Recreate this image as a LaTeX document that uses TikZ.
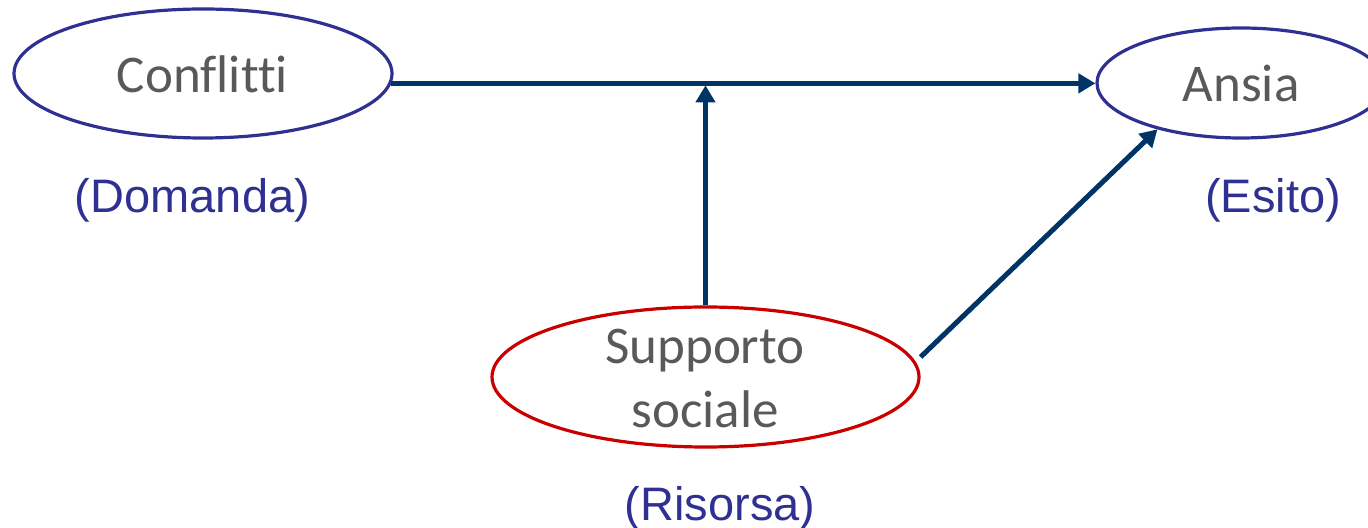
\documentclass[tikz,border=0pt]{standalone}
\usepackage{fontspec}
\setmainfont[Ligatures=NoCommon]{Carlito}
\newfontfamily\labfont{Liberation Sans}
\usetikzlibrary{shapes.geometric,arrows.meta}
\definecolor{ellblue}{RGB}{46,49,146}
\definecolor{ellred}{RGB}{200,0,0}
\definecolor{arrnavy}{RGB}{0,51,102}
\definecolor{txtgray}{RGB}{89,89,89}
\tikzset{
  ovalblue/.style={ellipse, draw=ellblue, line width=1.6pt, inner sep=0pt},
  ovalred/.style={ellipse, draw=ellred, line width=1.6pt, inner sep=0pt},
  maintext/.style={anchor=base, inner sep=0pt, text=txtgray, font=\fontsize{26.5pt}{30pt}\selectfont},
  labtext/.style={anchor=base, inner sep=0pt, text=ellblue, font=\labfont\fontsize{23.5pt}{27pt}\selectfont},
  arr/.style={draw=arrnavy, line width=2.5pt, -{Triangle[length=8.5pt,width=9.5pt]}}
}
\begin{document}
\begin{tikzpicture}[x=0.5pt,y=-0.5pt]
\clip (0,0) rectangle (1368,528);
% ellipses
\node[ovalblue, minimum width=189pt, minimum height=64.5pt] (conf) at (203,73.5) {};
\node[ovalblue, minimum width=144pt, minimum height=55pt] (ansia) at (1241,83) {};
\node[ovalred, minimum width=213.5pt, minimum height=70pt] (sup) at (705.5,377) {};
% texts
\node[maintext] (tconf) at (202.5,93) {Conflitti};
\node[maintext] (tansia) at (1241,102) {Ansia};
\node[maintext] (tsup1) at (705,364) {Supporto};
\node[maintext] (tsup2) at (705,427) {sociale};
\node[labtext] (ldom) at (192.5,213) {(Domanda)};
\node[labtext] (lesi) at (1273,213) {(Esito)};
\node[labtext] (lris) at (720,520) {(Risorsa)};
% connectors
\coordinate (h) at (conf.-3.2);
\draw[arr] (h) -- (ansia.west |- h);
\draw[arr, shorten >=1pt] (sup.north) -- (sup.north |- h);
\draw[arr] ([yshift=10pt]sup.east) -- (ansia.209.5);
\end{tikzpicture}
\end{document}
